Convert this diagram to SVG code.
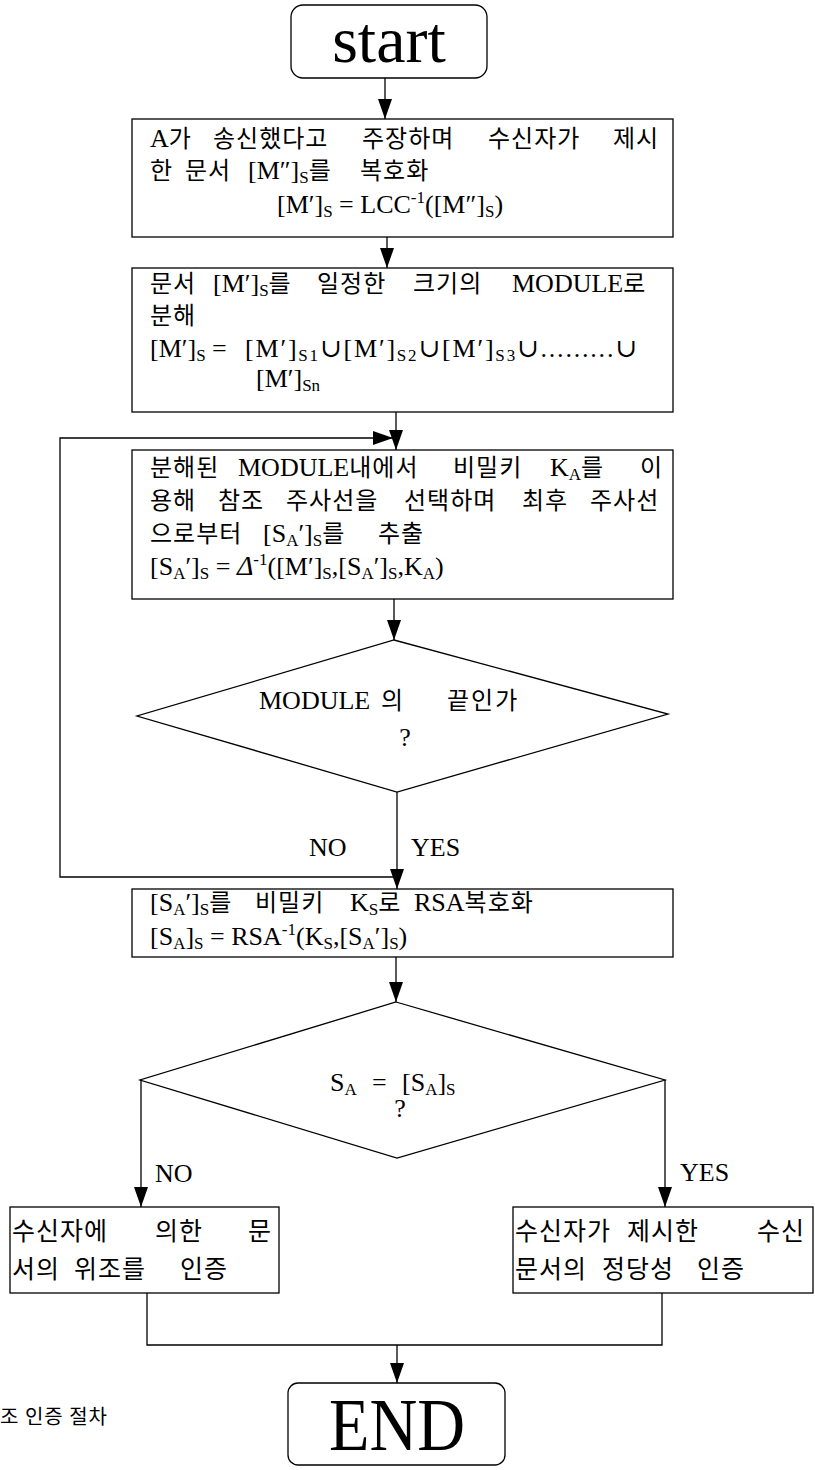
<svg xmlns="http://www.w3.org/2000/svg" width="815" height="1470" viewBox="0 0 815 1470">
  <style>
    .t { font-family: "Liberation Serif", "DejaVu Serif", "Noto Sans CJK KR", serif; font-size: 26px; fill: #000; }
    .k { font-family: "Noto Sans CJK KR", sans-serif; font-size: 24px; letter-spacing: 1px; }
    .g { font-family: "Noto Sans CJK KR", sans-serif; font-size: 25px; letter-spacing: 1px; fill: #000; }
    .s { font-size: 17px; }
    .box { fill: #fff; stroke: #000; stroke-width: 1.3; }
    .ln { fill: none; stroke: #000; stroke-width: 1.3; }
    .big { font-family: "Liberation Serif", serif; fill: #000; }
  </style>
  <defs>
    <marker id="arr" markerUnits="userSpaceOnUse" markerWidth="20" markerHeight="14" refX="20" refY="7" orient="auto">
      <path d="M0,0 L20,7 L0,14 z" fill="#000"/>
    </marker>
  </defs>

  <rect width="815" height="1470" fill="#fff"/>

  <!-- connectors -->
  <g id="connectors">
    <line class="ln" x1="385" y1="78" x2="385" y2="119" marker-end="url(#arr)"/>
    <line class="ln" x1="387" y1="237" x2="387" y2="268" marker-end="url(#arr)"/>
    <line class="ln" x1="396" y1="412" x2="396" y2="450" marker-end="url(#arr)"/>
    <line class="ln" x1="394" y1="599" x2="394" y2="640" marker-end="url(#arr)"/>
    <line class="ln" x1="397" y1="792" x2="397" y2="889" marker-end="url(#arr)"/>
    <!-- loop back (NO) -->
    <path class="ln" d="M397,877 H60 V438 H393" marker-end="url(#arr)"/>
    <line class="ln" x1="396" y1="957" x2="396" y2="1002" marker-end="url(#arr)"/>
    <!-- NO branch -->
    <line class="ln" x1="141" y1="1080" x2="141" y2="1207" marker-end="url(#arr)"/>
    <!-- YES branch -->
    <line class="ln" x1="665" y1="1080" x2="665" y2="1207" marker-end="url(#arr)"/>
    <!-- merge -->
    <path class="ln" d="M147,1293 V1345 H662 V1293"/>
    <line class="ln" x1="397" y1="1345" x2="397" y2="1383" marker-end="url(#arr)"/>
  </g>

  <!-- start -->
  <g id="start">
    <rect class="box" x="291" y="5" width="196" height="73" rx="12"/>
    <text class="big" x="389" y="62" font-size="66" text-anchor="middle">start</text>
  </g>

  <!-- decrypt received document -->
  <g id="decrypt">
    <rect class="box" x="132" y="119" width="541" height="118"/>
    <text class="t" y="147"><tspan x="150">A</tspan><tspan class="k">가</tspan><tspan class="k" x="213">송신했다고</tspan><tspan class="k" x="362">주장하며</tspan><tspan class="k" x="488">수신자가</tspan><tspan class="k" x="613">제시</tspan></text>
    <text class="t" y="179"><tspan class="k" x="150">한</tspan><tspan class="k" x="185">문서</tspan><tspan x="248">[M″]</tspan><tspan class="s" dy="4">S</tspan><tspan class="k" dy="-4">를</tspan><tspan class="k" x="360">복호화</tspan></text>
    <text class="t" x="277" y="213">[M′]<tspan class="s" dy="4">S</tspan><tspan dy="-4"> = LCC</tspan><tspan class="s" dy="-10">-1</tspan><tspan dy="10">([M″]</tspan><tspan class="s" dy="4">S</tspan><tspan dy="-4">)</tspan></text>
  </g>

  <!-- split into modules -->
  <g id="split">
    <rect class="box" x="132" y="268" width="541" height="144"/>
    <text class="t" y="292"><tspan class="k" x="150">문서</tspan><tspan x="213">[M′]</tspan><tspan class="s" dy="4">S</tspan><tspan class="k" dy="-4">를</tspan><tspan class="k" x="317">일정한</tspan><tspan class="k" x="413">크기의</tspan><tspan x="512">MODULE</tspan><tspan class="k">로</tspan></text>
    <text class="t" y="324"><tspan class="k" x="150">분해</tspan></text>
    <text class="t" x="150" y="357">[M′]<tspan class="s" dy="4">S</tspan><tspan dy="-4"> =</tspan></text>
    <text class="t" x="245" y="357" textLength="392" lengthAdjust="spacing">[M′]<tspan class="s" dy="4">S1</tspan><tspan dy="-4">∪[M′]</tspan><tspan class="s" dy="4">S2</tspan><tspan dy="-4">∪[M′]</tspan><tspan class="s" dy="4">S3</tspan><tspan dy="-4">∪.........∪</tspan></text>
    <text class="t" x="256" y="387">[M′]<tspan class="s" dy="4">Sn</tspan></text>
  </g>

  <!-- extract signature -->
  <g id="extract">
    <rect class="box" x="132" y="450" width="541" height="149"/>
    <text class="t" y="476"><tspan class="k" x="150">분해된</tspan><tspan x="238">MODULE</tspan><tspan class="k">내에서</tspan><tspan class="k" x="453">비밀키</tspan><tspan x="550">K</tspan><tspan class="s" dy="4">A</tspan><tspan class="k" dy="-4">를</tspan><tspan class="k" x="640">이</tspan></text>
    <text class="t" y="509"><tspan class="k" x="150">용해</tspan><tspan class="k" x="218">참조</tspan><tspan class="k" x="286">주사선을</tspan><tspan class="k" x="404">선택하며</tspan><tspan class="k" x="522">최후</tspan><tspan class="k" x="590">주사선</tspan></text>
    <text class="t" y="542"><tspan class="k" x="150">으로부터</tspan><tspan x="263">[S</tspan><tspan class="s" dy="4">A</tspan><tspan dy="-4">′]</tspan><tspan class="s" dy="4">S</tspan><tspan class="k" dy="-4">를</tspan><tspan class="k" x="378">추출</tspan></text>
    <text class="t" x="150" y="575">[S<tspan class="s" dy="4">A</tspan><tspan dy="-4">′]</tspan><tspan class="s" dy="4">S</tspan><tspan dy="-4"> = </tspan><tspan font-style="italic" font-size="28">Δ</tspan><tspan class="s" dy="-10">-1</tspan><tspan dy="10">([M′]</tspan><tspan class="s" dy="4">S</tspan><tspan dy="-4">,[S</tspan><tspan class="s" dy="4">A</tspan><tspan dy="-4">′]</tspan><tspan class="s" dy="4">S</tspan><tspan dy="-4">,K</tspan><tspan class="s" dy="4">A</tspan><tspan dy="-4">)</tspan></text>
  </g>

  <!-- end of module? -->
  <g id="module-end">
    <polygon class="box" points="394,640 668,714 397,792 137,716"/>
    <text class="t" y="709"><tspan x="259">MODULE</tspan><tspan class="k" x="381">의</tspan><tspan class="k" x="447" style="letter-spacing:2px">끝인가</tspan></text>
    <text class="t" x="405" y="746" text-anchor="middle">?</text>
  </g>

  <g id="loop-labels">
    <text class="t" x="309" y="856">NO</text>
    <text class="t" x="411" y="856">YES</text>
  </g>

  <!-- RSA decrypt -->
  <g id="rsa">
    <rect class="box" x="132" y="889" width="541" height="68"/>
    <text class="t" y="911"><tspan x="150">[S</tspan><tspan class="s" dy="4">A</tspan><tspan dy="-4">′]</tspan><tspan class="s" dy="4">S</tspan><tspan class="k" dy="-4">를</tspan><tspan class="k" x="255">비밀키</tspan><tspan x="350">K</tspan><tspan class="s" dy="4">S</tspan><tspan class="k" dy="-4">로</tspan><tspan x="414">RSA</tspan><tspan class="k">복호화</tspan></text>
    <text class="t" x="150" y="945">[S<tspan class="s" dy="4">A</tspan><tspan dy="-4">]</tspan><tspan class="s" dy="4">S</tspan><tspan dy="-4"> = RSA</tspan><tspan class="s" dy="-10">-1</tspan><tspan dy="10">(K</tspan><tspan class="s" dy="4">S</tspan><tspan dy="-4">,[S</tspan><tspan class="s" dy="4">A</tspan><tspan dy="-4">′]</tspan><tspan class="s" dy="4">S</tspan><tspan dy="-4">)</tspan></text>
  </g>

  <!-- signature compare -->
  <g id="compare">
    <polygon class="box" points="396,1002 665,1080 397,1158 140,1080"/>
    <text class="t" x="330" y="1091">S<tspan class="s" dy="4">A</tspan><tspan dy="-4" x="372">=</tspan><tspan x="402">[S</tspan><tspan class="s" dy="4">A</tspan><tspan dy="-4">]</tspan><tspan class="s" dy="4">S</tspan></text>
    <text class="t" x="400" y="1117" text-anchor="middle">?</text>
  </g>

  <g id="compare-labels">
    <text class="t" x="155" y="1182">NO</text>
    <text class="t" x="680" y="1181">YES</text>
  </g>

  <!-- forgery result -->
  <g id="forged">
    <rect class="box" x="10" y="1207" width="269" height="86"/>
    <text class="g" y="1240"><tspan x="12">수신자에</tspan><tspan x="155">의한</tspan><tspan x="248">문</tspan></text>
    <text class="g" y="1278"><tspan x="12">서의</tspan><tspan x="74">위조를</tspan><tspan x="180">인증</tspan></text>
  </g>

  <!-- valid result -->
  <g id="valid">
    <rect class="box" x="513" y="1207" width="300" height="86"/>
    <text class="g" y="1240"><tspan x="515">수신자가</tspan><tspan x="627">제시한</tspan><tspan x="757">수신</tspan></text>
    <text class="g" y="1278"><tspan x="515">문서의</tspan><tspan x="602">정당성</tspan><tspan x="697">인증</tspan></text>
  </g>

  <!-- end -->
  <g id="end">
    <rect class="box" x="288" y="1383" width="217" height="82" rx="10"/>
    <text class="big" x="397" y="1450" font-size="74" text-anchor="middle" textLength="136" lengthAdjust="spacingAndGlyphs">END</text>
  </g>

  <text id="caption" x="0" y="1424" font-family="Noto Sans CJK KR, sans-serif" font-size="20" letter-spacing="1" fill="#000">조 인증 절차</text>
</svg>
